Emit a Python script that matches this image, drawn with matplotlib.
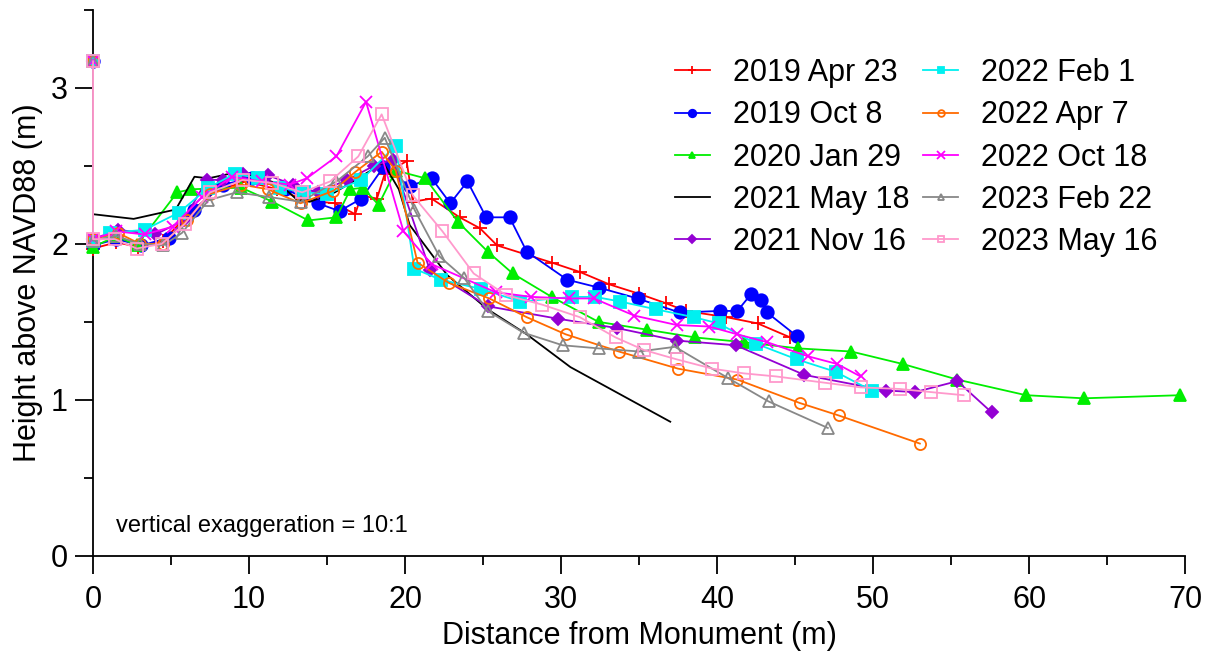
import matplotlib
matplotlib.use("Agg")
import matplotlib.pyplot as plt
from matplotlib.ticker import MultipleLocator

plt.rcParams.update({
    "font.family": ["Liberation Sans", "DejaVu Sans"],
    "font.size": 22,
})

LABELS = ["2019 Apr 23", "2019 Oct 8", "2020 Jan 29", "2021 May 18", "2021 Nov 16",
          "2022 Feb 1", "2022 Apr 7", "2022 Oct 18", "2023 Feb 22", "2023 May 16"]

x_apr19 = [0, 0, 1.5, 2.9, 4.5, 6.2, 7.9, 9.8, 11.8, 13.6, 15.5, 16.8, 17.2, 18.2, 18.7, 20.1, 20.5,
           21.7, 23.5, 24.8, 25.9, 29.4, 31.2, 33.1, 35.0, 36.7, 38.0, 40.6, 42.6, 44.7]
y_apr19 = [3.17, 1.97, 2.01, 1.98, 2.02, 2.20, 2.34, 2.40, 2.35, 2.28, 2.26, 2.19, 2.31, 2.29, 2.45, 2.53, 2.27,
           2.29, 2.17, 2.10, 1.99, 1.88, 1.82, 1.74, 1.68, 1.62, 1.57, 1.53, 1.49, 1.40]

x_oct19 = [0, 0, 1.5, 3.1, 4.9, 6.5, 8.3, 10.2, 12.3, 14.4, 15.8, 17.2, 18.6, 20.3, 21.7, 22.9, 24.0,
           25.2, 26.7, 27.8, 30.4, 32.4, 34.9, 37.6, 40.2, 41.3, 42.2, 42.8, 43.2, 45.1]
y_oct19 = [3.17, 1.99, 2.03, 1.99, 2.04, 2.22, 2.38, 2.42, 2.35, 2.26, 2.21, 2.29, 2.49, 2.37, 2.42, 2.26, 2.40,
           2.17, 2.17, 1.95, 1.77, 1.72, 1.65, 1.56, 1.57, 1.57, 1.68, 1.64, 1.56, 1.41]

x_jan20 = [0, 0, 1.5, 2.8, 5.4, 6.3, 9.5, 11.5, 13.8, 15.6, 16.5, 17.3, 18.3, 19.4, 21.3, 23.4, 25.3,
           26.9, 29.4, 32.4, 35.5, 38.6, 41.7, 45.2, 48.6, 51.9, 55.4, 59.8, 63.5, 69.7]
y_jan20 = [3.17, 1.98, 2.05, 1.99, 2.33, 2.35, 2.36, 2.27, 2.15, 2.17, 2.35, 2.36, 2.25, 2.47, 2.42, 2.14, 1.95,
           1.81, 1.66, 1.50, 1.45, 1.40, 1.37, 1.33, 1.31, 1.23, 1.13, 1.03, 1.01, 1.03]

x_may21 = [0, 2.6, 5.3, 6.5, 7.4, 8.8, 10.5, 12.0, 13.1, 13.9, 15.5, 17.0, 18.6, 19.6, 20.3, 22.7, 25.3,
           27.8, 30.6, 37.0]
y_may21 = [2.19, 2.16, 2.22, 2.43, 2.42, 2.45, 2.43, 2.38, 2.28, 2.27, 2.33, 2.42, 2.52, 2.35, 2.12, 1.80, 1.58,
           1.42, 1.21, 0.86]

x_nov21 = [0, 0, 1.6, 4.0, 5.8, 7.3, 8.3, 9.6, 11.2, 12.8, 14.4, 16.3, 18.0, 19.2, 21.6, 25.3, 29.8,
           33.6, 37.4, 41.2, 45.6, 50.8, 52.7, 55.4, 57.6]
y_nov21 = [3.17, 2.03, 2.09, 2.06, 2.15, 2.41, 2.41, 2.45, 2.44, 2.38, 2.33, 2.41, 2.50, 2.54, 1.83, 1.60, 1.52,
           1.46, 1.38, 1.35, 1.16, 1.06, 1.05, 1.12, 0.92]

x_feb22 = [0, 0, 1.1, 3.3, 5.5, 7.4, 9.1, 10.6, 12.0, 13.5, 15.0, 17.2, 19.4, 20.6, 22.3, 24.9, 27.4,
           30.7, 32.2, 33.8, 36.1, 38.5, 40.1, 42.5, 45.1, 47.6, 49.9]
y_feb22 = [3.17, 2.02, 2.07, 2.09, 2.20, 2.36, 2.45, 2.42, 2.36, 2.33, 2.32, 2.41, 2.63, 1.84, 1.77, 1.71, 1.63,
           1.66, 1.66, 1.63, 1.58, 1.53, 1.49, 1.36, 1.26, 1.18, 1.06]

x_apr22 = [0, 0, 1.6, 3.0, 4.5, 6.0, 7.5, 9.5, 11.2, 13.3, 15.4, 16.8, 18.5, 19.4, 20.8, 22.8, 25.4,
           27.8, 30.3, 33.7, 37.5, 41.3, 45.3, 47.8, 53.0]
y_apr22 = [3.17, 2.03, 2.07, 2.00, 2.00, 2.15, 2.32, 2.38, 2.35, 2.26, 2.34, 2.46, 2.59, 2.47, 1.88, 1.75, 1.65,
           1.53, 1.42, 1.31, 1.20, 1.13, 0.98, 0.90, 0.72]

x_oct22 = [0, 0, 1.5, 3.3, 5.1, 7.0, 8.9, 10.8, 12.6, 13.7, 15.6, 17.5, 19.9, 21.7, 25.8, 28.1, 30.5,
           32.1, 34.7, 37.4, 39.5, 41.3, 43.2, 45.8, 47.7, 49.2]
y_oct22 = [3.17, 2.03, 2.08, 2.06, 2.11, 2.30, 2.43, 2.40, 2.38, 2.42, 2.56, 2.91, 2.08, 1.87, 1.69, 1.66, 1.65,
           1.65, 1.54, 1.48, 1.47, 1.42, 1.37, 1.28, 1.23, 1.15]

x_feb23 = [0, 0, 1.5, 3.0, 4.5, 5.7, 7.4, 9.2, 11.3, 13.3, 15.6, 17.6, 18.7, 20.6, 22.2, 23.8, 25.3,
           27.6, 30.1, 32.4, 35.0, 37.3, 40.7, 43.3, 47.1]
y_feb23 = [3.17, 2.02, 2.05, 2.00, 1.99, 2.07, 2.28, 2.33, 2.30, 2.27, 2.40, 2.56, 2.68, 2.22, 1.92, 1.78, 1.57,
           1.43, 1.35, 1.33, 1.31, 1.34, 1.14, 0.99, 0.82]

x_may23 = [0, 0, 1.4, 2.8, 4.4, 5.9, 7.5, 9.6, 11.5, 13.4, 15.2, 17.0, 18.5, 20.5, 22.4, 24.4, 26.5,
           28.8, 31.2, 33.5, 35.3, 37.4, 39.7, 41.7, 43.8, 46.9, 49.2, 51.7, 53.7, 55.8]
y_may23 = [3.17, 2.03, 2.03, 1.97, 2.00, 2.13, 2.33, 2.41, 2.39, 2.33, 2.40, 2.56, 2.83, 2.31, 2.08, 1.81, 1.67,
           1.61, 1.53, 1.40, 1.32, 1.26, 1.20, 1.17, 1.15, 1.11, 1.08, 1.07, 1.05, 1.03]

SERIES = [
    (x_apr19, y_apr19, "#ff0000", "+", True, 10),
    (x_oct19, y_oct19, "#0000ff", "o", True, 9),
    (x_jan20, y_jan20, "#00ee00", "^", True, 8),
    (x_may21, y_may21, "#000000", "", True, 0),
    (x_nov21, y_nov21, "#9400d3", "D", True, 6.5),
    (x_feb22, y_feb22, "#00f0f0", "s", True, 8),
    (x_apr22, y_apr22, "#ff6a00", "o", False, 8),
    (x_oct22, y_oct22, "#ff00ff", "x", True, 9),
    (x_feb23, y_feb23, "#888888", "^", False, 8),
    (x_may23, y_may23, "#ff99cc", "s", False, 8),
]

fig = plt.figure(figsize=(12.1, 6.54), dpi=100)
ax = fig.add_axes([0.0769, 0.150, 0.9025, 0.835])

for (xs, ys, color, marker, filled, ms), label in zip(SERIES, LABELS):
    ax.plot(xs, ys, color=color, lw=1.3, marker=marker or None, ms=ms,
            mfc=color if filled else "none", mec=color, mew=1.3, label=label,
            zorder=3, clip_on=False)

ax.set_xlim(0, 70)
ax.set_ylim(0, 3.5)
ax.xaxis.set_major_locator(MultipleLocator(10))
ax.xaxis.set_minor_locator(MultipleLocator(5))
ax.yaxis.set_major_locator(MultipleLocator(1))
ax.yaxis.set_minor_locator(MultipleLocator(0.5))
ax.tick_params(which="major", direction="out", length=13, width=1.3, labelsize=22, pad=5)
ax.tick_params(axis="x", which="major", pad=8)
ax.tick_params(which="minor", direction="out", length=6.5, width=1.3)
for side in ["top", "right"]:
    ax.spines[side].set_visible(False)
for side in ["left", "bottom"]:
    ax.spines[side].set_linewidth(1.3)

ax.set_xlabel("Distance from Monument (m)", fontsize=22, labelpad=4)
ax.set_ylabel("Height above NAVD88 (m)", fontsize=22, labelpad=6)
ax.text(1.5, 0.19, "vertical exaggeration = 10:1", fontsize=17, va="center", ha="left")

ax.legend(loc="upper right", bbox_to_anchor=(1.0, 0.962), ncol=2, frameon=False, fontsize=22,
          handlelength=1.15, handletextpad=0.75, columnspacing=0.45, labelspacing=0.4, markerscale=0.6)

fig.savefig("out.png", dpi=100)
